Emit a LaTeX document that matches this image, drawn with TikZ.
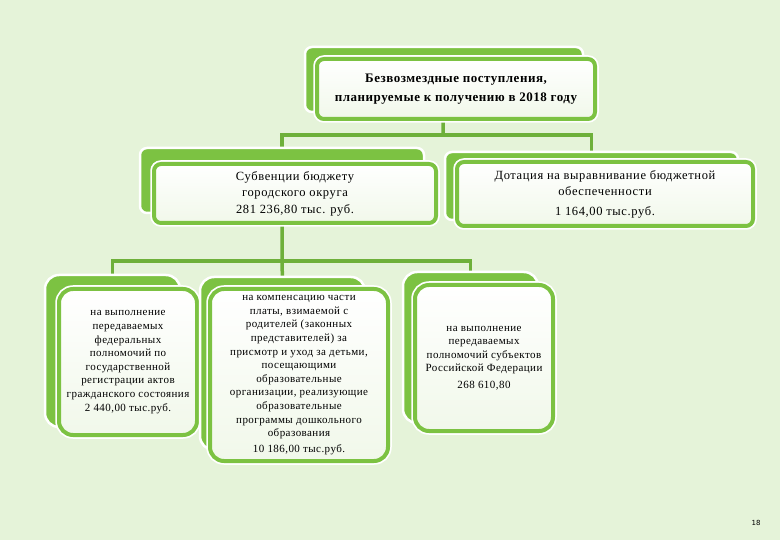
\documentclass[tikz,border=0pt]{standalone}
\usepackage{fontspec}
\setmainfont{Liberation Serif}
\setsansfont{DejaVu Sans}
\definecolor{bgc}{HTML}{E5F3D9}
\definecolor{gr}{HTML}{7CC242}
\definecolor{cg}{HTML}{6EB03A}
\definecolor{frontfill}{HTML}{F1F8EA}
\pgfdeclarelayer{bglayer}
\pgfdeclarelayer{connlayer}
\pgfsetlayers{bglayer,connlayer,main}
\begin{document}
\begin{tikzpicture}[x=1pt,y=-1pt,
  backbox/.style={draw=white, line width=2.5pt, fill=gr, rounded corners=#1, inner sep=0pt},
  backbox/.default=7pt,
  frontbox/.style={draw=gr, line width=4pt, top color=white, bottom color=frontfill,
    rounded corners=#1, align=center, inner sep=0pt,
    preaction={draw=white, line width=7.5pt}},
  frontbox/.default=7pt,
  conn/.style={draw=cg, line width=3.5pt},
  bigtxt/.style={font=\fontsize{12.5}{16.5}\selectfont\addfontfeature{LetterSpace=5}},
  toptxt/.style={font=\bfseries\fontsize{13}{18.5}\selectfont\addfontfeature{LetterSpace=4}},
  smalltxt/.style={font=\fontsize{11}{13.6}\selectfont\addfontfeature{LetterSpace=4}}
]
\useasboundingbox (0,0) rectangle (780,540);
\begin{pgfonlayer}{bglayer}
  \fill[bgc] (0,0) rectangle (780,540);
\end{pgfonlayer}

% top
\node[backbox, minimum width=278pt, minimum height=65pt] (topB) at (444,79.5) {};
\node[frontbox, toptxt, minimum width=278pt, minimum height=60pt] (top) at (456,89)
  {Безвозмездные поступления,\\ планируемые к получению в 2018 году};

% second level
\node[backbox, minimum width=284pt, minimum height=65pt] (subvB) at (282,180.5) {};
\node[frontbox, bigtxt, minimum width=282pt, minimum height=59pt] (subv) at (295,193.5)
  {Субвенции бюджету\\ городского округа\\ 281 236,80 тыс. руб.};

\node[backbox, minimum width=293pt, minimum height=68pt] (dotB) at (591.5,186) {};
\node[frontbox, bigtxt, minimum width=296pt, minimum height=64pt] (dot) at (605,194)
  {Дотация на выравнивание бюджетной\\ обеспеченности\\[3pt] 1 164,00 тыс.руб.};

% third level
\node[backbox=14pt, minimum width=135pt, minimum height=152pt] (blB) at (112.5,351) {};
\node[frontbox=14pt, smalltxt, minimum width=138pt, minimum height=146pt] (bl) at (128,362)
  {на выполнение\\ передаваемых\\ федеральных\\ полномочий по\\ государственной\\ регистрации актов\\ гражданского состояния\\ 2 440,00 тыс.руб.};

\node[backbox=14pt, minimum width=165pt, minimum height=173pt] (bmB) at (282.5,363.5) {};
\node[frontbox=14pt, smalltxt, minimum width=178pt, minimum height=172pt] (bm) at (299,375)
  {на компенсацию части\\ платы, взимаемой с\\ родителей (законных\\ представителей) за\\ присмотр и уход за детьми,\\ посещающими\\ образовательные\\ организации, реализующие\\ образовательные\\ программы дошкольного\\ образования\\[2pt] 10 186,00 тыс.руб.};

\node[backbox=14pt, minimum width=135pt, minimum height=151pt] (brB) at (470.5,347.5) {};
\node[frontbox=14pt, smalltxt, minimum width=138pt, minimum height=146pt] (br) at (484,358)
  {на выполнение\\ передаваемых\\ полномочий субъектов\\ Российской Федерации\\[3pt] 268 610,80};

\node[font=\sffamily\fontsize{7}{8}\selectfont] (pg) at (756,523) {18};

\coordinate (j1) at (443,135);
\coordinate (j2) at (282,261);
\begin{pgfonlayer}{connlayer}
  \draw[conn] (topB.center) -- (j1);
  \draw[conn] (subvB.center) |- (j1) -| (dotB.center);
  \draw[conn] (subvB.center) -- (bmB.center);
  \draw[conn] (blB.center) |- (j2) -| (brB.center);
\end{pgfonlayer}
\end{tikzpicture}
\end{document}
